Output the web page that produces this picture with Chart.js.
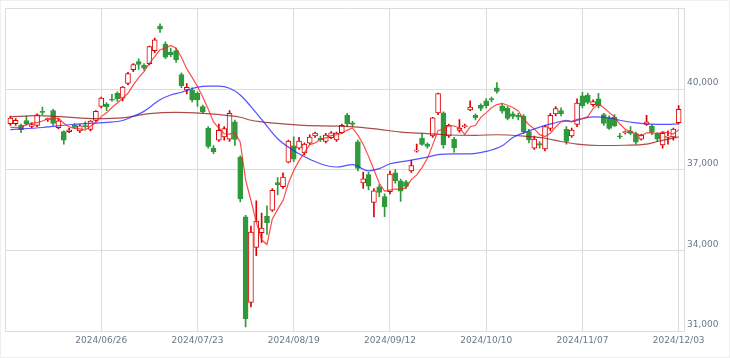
<!DOCTYPE html>
<html>
<head>
<meta charset="utf-8">
<script src="https://cdn.jsdelivr.net/npm/chart.js@4.4.1/dist/chart.umd.min.js"></script>
<style>
  html, body { margin: 0; padding: 0; background: #fff; }
  #chart { display: block; }
</style>
</head>
<body>
<canvas id="chart" width="730" height="358"></canvas>
<script>
// trading days
const dates = [
  '2024/06/03','2024/06/04','2024/06/05','2024/06/06','2024/06/07','2024/06/10','2024/06/11','2024/06/12','2024/06/13','2024/06/14',
  '2024/06/17','2024/06/18','2024/06/19','2024/06/20','2024/06/21','2024/06/24','2024/06/25','2024/06/26','2024/06/27','2024/06/28',
  '2024/07/01','2024/07/02','2024/07/03','2024/07/04','2024/07/05','2024/07/08','2024/07/09','2024/07/10','2024/07/11','2024/07/12',
  '2024/07/16','2024/07/17','2024/07/18','2024/07/19','2024/07/22','2024/07/23','2024/07/24','2024/07/25','2024/07/26','2024/07/29',
  '2024/07/30','2024/07/31','2024/08/01','2024/08/02','2024/08/05','2024/08/06','2024/08/07','2024/08/08','2024/08/09','2024/08/13',
  '2024/08/14','2024/08/15','2024/08/16','2024/08/19','2024/08/20','2024/08/21','2024/08/22','2024/08/23','2024/08/26','2024/08/27',
  '2024/08/28','2024/08/29','2024/08/30','2024/09/02','2024/09/03','2024/09/04','2024/09/05','2024/09/06','2024/09/09','2024/09/10',
  '2024/09/11','2024/09/12','2024/09/13','2024/09/17','2024/09/18','2024/09/19','2024/09/20','2024/09/24','2024/09/25','2024/09/26',
  '2024/09/27','2024/09/30','2024/10/01','2024/10/02','2024/10/03','2024/10/04','2024/10/07','2024/10/08','2024/10/09','2024/10/10',
  '2024/10/11','2024/10/15','2024/10/16','2024/10/17','2024/10/18','2024/10/21','2024/10/22','2024/10/23','2024/10/24','2024/10/25',
  '2024/10/28','2024/10/29','2024/10/30','2024/10/31','2024/11/01','2024/11/05','2024/11/06','2024/11/07','2024/11/08','2024/11/11',
  '2024/11/12','2024/11/13','2024/11/14','2024/11/15','2024/11/18','2024/11/19','2024/11/20','2024/11/21','2024/11/22','2024/11/25',
  '2024/11/26','2024/11/27','2024/11/28','2024/11/29','2024/12/02','2024/12/03'
];

const opens = [
  38708,38710,38646,38830,38610,38646,39170,38860,39195,38560,
  38416,38416,38646,38440,38640,38500,38830,39350,39440,39620,
  39840,39660,40210,40720,41025,40878,40940,41430,42340,41670,
  41370,41430,40540,39963,39963,39840,39350,38536,37804,38097,
  38220,38134,38780,37465,35243,32060,34110,34657,35270,35490,
  36525,36366,37280,37890,37805,37620,37987,38255,38170,38050,
  38196,38110,38380,39025,38745,38040,36512,36817,35780,36366,
  36000,36184,36880,36586,36550,36950,37690,38170,37950,38255,
  39111,39111,38255,38134,38463,38600,39220,39025,39390,39560,
  39634,40050,39378,39295,39074,39025,38990,38416,37805,37975,
  37770,38536,39074,39195,38500,38255,38683,39744,39780,39415,
  39634,39050,38928,38950,38250,38380,38440,38342,38134,38683,
  38620,38342,37925,38200,38220,38745
];
const highs = [
  38990,38900,38700,38990,38750,39080,39330,38920,39250,38880,
  38450,38550,38720,38680,38780,38830,39200,39700,39500,39800,
  39900,40100,40620,40950,41123,40950,41600,41900,42430,41760,
  41520,41520,40600,40208,40050,39900,39400,38600,37900,38700,
  38600,39200,38850,37520,35300,34900,35840,35390,35657,36300,
  36707,36880,38100,38220,38200,38000,38300,38400,38250,38350,
  38420,38400,38700,39100,38800,38100,36915,36900,36300,36450,
  36100,36950,37000,36650,36600,37350,37950,38350,38000,38950,
  39850,39150,38700,38200,38866,38700,39561,39080,39450,39650,
  39700,40245,39450,39350,39150,39100,39050,38500,38250,38050,
  38650,39100,39350,39300,38600,38550,39634,39880,39850,39600,
  39840,39100,39000,39050,38350,38450,38600,38400,38320,39025,
  38680,38380,38420,38450,38550,39389
];
const lows = [
  38650,38650,38380,38650,38560,38600,39050,38800,38650,38520,
  37950,38380,38540,38380,38536,38440,38800,39300,39195,39550,
  39550,39560,40150,40650,40732,40700,40900,41350,42110,41130,
  41200,40990,40050,39817,39520,39350,39100,37800,37600,38050,
  38100,38050,37900,35800,31156,31900,33800,34292,34596,35450,
  36060,36300,37250,37300,37750,37550,37950,38200,38050,38000,
  38150,38050,38350,38600,38600,36950,36305,36250,35243,36000,
  35250,36100,36500,35818,36300,36900,37650,37900,37800,38200,
  39050,37800,38200,37650,38400,38550,39200,38850,39200,39300,
  39520,39850,39100,38850,38900,38850,38350,38000,37750,37800,
  37700,38450,39000,39000,37950,38200,38600,39300,39450,39350,
  39300,38650,38500,38600,38150,38330,38300,37950,38100,38650,
  38300,38050,37800,37950,38100,38700
];
const closes = [
  38923,38837,38490,38703,38683,39038,39134,38876,38720,38814,
  38102,38482,38570,38633,38596,38804,39173,39667,39341,39583,
  39631,40074,40580,40913,40912,40780,41580,41831,42224,41190,
  41275,41097,40126,40063,39599,39594,39154,37869,37667,38468,
  38526,39101,38126,35909,31458,34675,35089,34831,35025,36232,
  36442,36726,38062,37388,38062,37951,38211,38364,38110,38288,
  38371,38362,38647,38700,38686,37047,36657,36391,36215,36159,
  35619,36833,36581,36203,36380,37155,37723,37940,37870,38925,
  39829,37919,38651,37808,38552,38635,39332,38937,39277,39380,
  39605,39910,39180,38911,38981,38954,38411,38104,38143,37913,
  38605,39027,39277,39081,38053,38474,39480,39381,39500,39533,
  39376,38721,38535,38642,38220,38414,38352,38026,38283,38780,
  38400,38134,38349,38255,38513,39248
];

// moving averages
const ma5 = [
  38576,38572,38558,38688,38727,38750,38810,38887,38890,38916,
  38729,38599,38538,38520,38477,38617,38755,38975,39116,39314,
  39479,39659,39842,40156,40422,40652,40953,41203,41465,41521,
  41620,41523,41182,40750,40432,40096,39707,39256,38777,38550,
  38337,38326,38378,38026,36624,35854,35051,34392,34216,35170,
  35524,35851,36497,36970,37336,37638,37935,37995,38140,38185,
  38269,38299,38356,38474,38553,38288,37947,37496,36999,36494,
  36208,36243,36281,36279,36323,36630,36808,37080,37414,37923,
  38457,38497,38639,38626,38552,38313,38596,38653,38947,39112,
  39306,39422,39470,39397,39317,39187,38887,38672,38519,38305,
  38235,38358,38593,38781,38809,38782,38873,38894,38978,39274,
  39454,39302,39133,38961,38699,38506,38433,38331,38259,38371,
  38377,38333,38398,38383,38329,38490
];
const ma25 = [
  [0,38490],[6,38570],[12,38690],[18,38760],[21,38830],[23,38990],[25,39170],[28,39600],[30,39780],
  [32,39880],[35,40070],[37,40110],[39,40110],[41,40030],[43,39780],[45,39350],[47,38870],[50,38150],
  [54,37590],[58,37220],[61,37100],[64,37190],[67,36960],[69,37040],[71,37220],[74,37320],[78,37470],
  [80,37560],[83,37590],[86,37590],[89,37680],[92,37890],[94,38196],[97,38440],[99,38584],[102,38745],
  [104,38840],[105,38800],[107,38900],[109,38964],[112,38928],[114,38840],[117,38745],[119,38708],
  [122,38683],[125,38708]
];
const ma75 = [
  [0,38964],[5,39012],[10,38964],[16,38902],[21,38928],[26,39085],[31,39133],[36,39097],[41,39012],
  [43,38950],[45,38840],[47,38781],[50,38720],[55,38646],[61,38621],[65,38584],[69,38500],[73,38401],
  [78,38342],[82,38290],[87,38280],[91,38300],[96,38250],[100,38170],[103,38050],[106,37950],
  [110,37900],[115,37910],[119,37950],[121,38050],[125,38220]
];

const tickDates = ['2024/06/26','2024/07/23','2024/08/19','2024/09/12','2024/10/10','2024/11/07','2024/12/03'];
const yTicks = [31000, 34000, 37000, 40000, 43000];

const UP = '#e00000';
const DOWN = '#2f9a3c';
const GRID = '#dcdcdc';
const TEXT = '#6b7889';

const isUp = dates.map((d, i) => closes[i] >= opens[i]);

const wicks = dates.map((d, i) => ({ x: i, y: [lows[i], highs[i]] }));
const bodies = dates.map((d, i) => ({ x: i, y: [opens[i], closes[i]] }));

// left border + faint outer frame
const framePlugin = {
  id: 'frame',
  beforeDraw(chart) {
    const { ctx, chartArea } = chart;
    ctx.save();
    ctx.strokeStyle = '#efefef';
    ctx.lineWidth = 1;
    ctx.strokeRect(0.5, 0.5, chart.width - 1, chart.height - 1);
    ctx.strokeStyle = GRID;
    ctx.beginPath();
    ctx.moveTo(Math.round(chartArea.left) + 0.5, chartArea.top);
    ctx.lineTo(Math.round(chartArea.left) + 0.5, chartArea.bottom);
    ctx.stroke();
    ctx.restore();
  }
};

new Chart(document.getElementById('chart'), {
  data: {
    datasets: [
      {
        type: 'line',
        data: ma5.map((v, i) => ({ x: i, y: v })),
        borderColor: 'rgba(255, 30, 30, 0.8)',
        borderWidth: 1.2,
        pointRadius: 0,
        tension: 0,
        order: 1
      },
      {
        type: 'line',
        data: ma25.map(p => ({ x: p[0], y: p[1] })),
        borderColor: 'rgba(40, 40, 255, 0.8)',
        borderWidth: 1.2,
        pointRadius: 0,
        cubicInterpolationMode: 'monotone',
        order: 1
      },
      {
        type: 'line',
        data: ma75.map(p => ({ x: p[0], y: p[1] })),
        borderColor: 'rgba(150, 30, 30, 0.8)',
        borderWidth: 1.2,
        pointRadius: 0,
        cubicInterpolationMode: 'monotone',
        order: 1
      },
      {
        type: 'bar',
        data: bodies,
        grouped: false,
        barThickness: 5,
        minBarLength: 1,
        backgroundColor: isUp.map(u => u ? '#ffffff' : DOWN),
        borderColor: isUp.map(u => u ? UP : DOWN),
        borderWidth: 1,
        borderSkipped: false,
        order: 2
      },
      {
        type: 'bar',
        data: wicks,
        grouped: false,
        barThickness: 1,
        backgroundColor: isUp.map(u => u ? UP : DOWN),
        borderWidth: 0,
        order: 3
      }
    ]
  },
  options: {
    responsive: false,
    animation: false,
    events: [],
    layout: { padding: { left: 5, top: 2, right: 0, bottom: 0 } },
    plugins: {
      legend: { display: false },
      tooltip: { enabled: false }
    },
    scales: {
      x: {
        type: 'linear',
        min: -1,
        max: 126,
        offset: false,
        afterBuildTicks: scale => {
          scale.ticks = tickDates.map(d => ({ value: dates.indexOf(d) }));
        },
        afterFit: scale => { scale.height = 27; },
        grid: { color: GRID, drawTicks: false, offset: false },
        border: { color: GRID },
        ticks: {
          autoSkip: false,
          maxRotation: 0,
          padding: 4,
          color: TEXT,
          font: { family: 'DejaVu Sans', size: 9 },
          callback: value => dates[value]
        }
      },
      y: {
        position: 'right',
        min: 31000,
        max: 43000,
        afterBuildTicks: scale => {
          scale.ticks = yTicks.map(v => ({ value: v }));
        },
        afterFit: scale => { scale.width = 46; },
        grid: { color: GRID, drawTicks: false },
        border: { color: GRID },
        ticks: {
          padding: 3,
          labelOffset: -6,
          color: TEXT,
          font: { family: 'DejaVu Sans', size: 9 },
          callback: value => value === 43000 ? '' : value.toLocaleString('en-US')
        }
      }
    }
  },
  plugins: [framePlugin]
});
</script>
</body>
</html>
